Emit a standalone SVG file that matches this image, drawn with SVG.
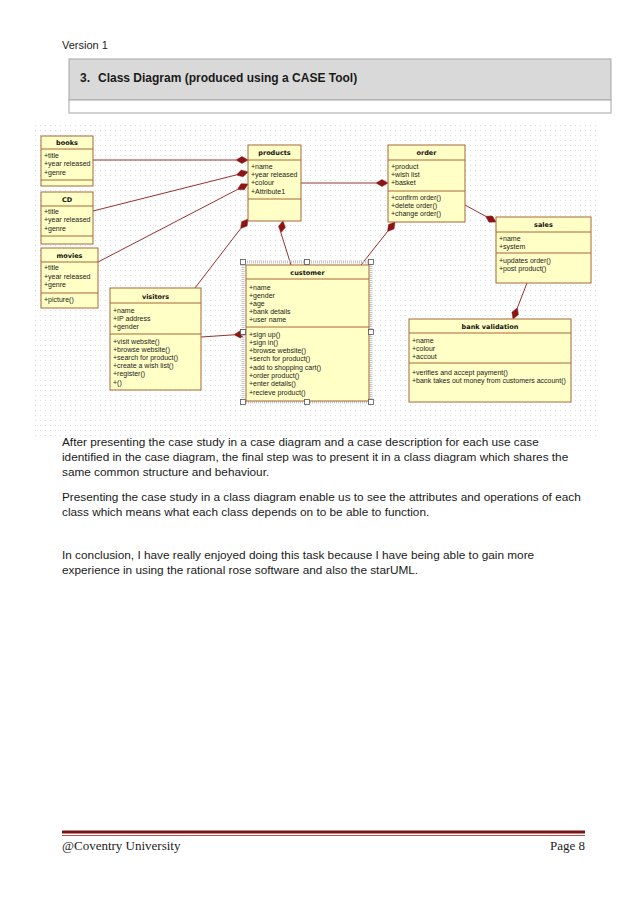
<svg xmlns="http://www.w3.org/2000/svg" width="639" height="903" viewBox="0 0 639 903">
<defs>
<pattern id="grid" x="35" y="125" width="5" height="5" patternUnits="userSpaceOnUse">
<rect x="0" y="0" width="1" height="1" fill="#d9d9d9"/>
</pattern>
<style>
.body{font-family:"Liberation Sans",Arial,sans-serif;font-size:11.8px;fill:#1a1a1a}
.cls rect.box{fill:#ffffc6;stroke:#a8663a;stroke-width:1}
.cls line{stroke:#a8663a;stroke-width:1}
.cn{font-family:"DejaVu Sans","Liberation Sans",sans-serif;font-size:6.5px;font-weight:bold;fill:#111;text-anchor:middle}
.ct{font-family:"Liberation Sans",Arial,sans-serif;font-size:7px;fill:#222}
.conn line{stroke:#9a3030;stroke-width:1}
.conn polygon{fill:#8b1515;stroke:#8b1515;stroke-width:0.5}
.h{fill:#fff;stroke:#555;stroke-width:0.8}
</style>
</defs>
<rect width="639" height="903" fill="#fff"/>
<text x="62" y="49" font-family="'Liberation Sans',Arial,sans-serif" font-size="11" fill="#1a1a1a">Version 1</text>
<g id="header-box">
<rect x="69" y="59" width="542" height="41" fill="#d9d9d9" stroke="#a6a6a6" stroke-width="1"/>
<rect x="69" y="100" width="542" height="13" fill="#fff" stroke="#a6a6a6" stroke-width="1"/>
<text x="80" y="82" font-family="'Liberation Sans',Arial,sans-serif" font-size="12" font-weight="bold" fill="#1a1a1a">3.</text>
<text x="98" y="82" font-family="'Liberation Sans',Arial,sans-serif" font-size="12" font-weight="bold" fill="#1a1a1a">Class Diagram (produced using a CASE Tool)</text>
</g>
<rect x="35" y="125" width="562" height="315" fill="url(#grid)"/>

<g id="connectors" class="conn">
<line x1="93" y1="160" x2="236" y2="160"/>
<polygon points="248,160 242,156.5 236,160 242,163.5"/>
<line x1="93" y1="211" x2="236.4" y2="174.9"/>
<polygon points="248,172 243.03,176.86 236.36,174.93 241.33,170.07"/>
<line x1="98" y1="262" x2="237.4" y2="189.5"/>
<polygon points="248,184 244.29,189.87 237.36,189.53 241.06,183.66"/>
<line x1="195" y1="288" x2="240.7" y2="228.5"/>
<polygon points="248,219 247.13,225.89 240.69,228.52 241.57,221.63"/>
<line x1="301" y1="183" x2="376" y2="183"/>
<polygon points="388,183 382,179.5 376,183 382,186.5"/>
<line x1="291" y1="265" x2="280.9" y2="232.8"/>
<polygon points="283,221 285.37,227.53 280.85,232.81 278.49,226.27"/>
<line x1="361" y1="265" x2="387.6" y2="231.4"/>
<polygon points="395,222 394.03,228.88 387.56,231.42 388.53,224.54"/>
<line x1="465" y1="205" x2="485.5" y2="216.2"/>
<polygon points="496,222 489.06,222.18 485.48,216.23 492.42,216.04"/>
<line x1="527" y1="283" x2="517.4" y2="307.8"/>
<polygon points="513,319 511.91,312.14 517.35,307.82 518.43,314.68"/>
<line x1="201" y1="337" x2="234" y2="334.8"/>
<polygon points="246,334 240.24,337.9 234.03,334.8 239.78,330.9"/>
</g>

<g id="books" class="cls">
<rect class="box" x="41" y="136" width="52" height="50"/>
<line x1="41" y1="149" x2="93" y2="149"/><line x1="41" y1="180" x2="93" y2="180"/>
<text class="cn" x="67" y="145">books</text>
<text class="ct" x="44" y="157.5">+title</text>
<text class="ct" x="44" y="166">+year released</text>
<text class="ct" x="44" y="174.5">+genre</text>
</g>
<g id="CD" class="cls">
<rect class="box" x="41" y="192" width="52" height="52"/>
<line x1="41" y1="206" x2="93" y2="206"/><line x1="41" y1="236" x2="93" y2="236"/>
<text class="cn" x="67" y="202">CD</text>
<text class="ct" x="44" y="213.5">+title</text>
<text class="ct" x="44" y="222">+year released</text>
<text class="ct" x="44" y="230.5">+genre</text>
</g>
<g id="movies" class="cls">
<rect class="box" x="41" y="248" width="57" height="60"/>
<line x1="41" y1="262" x2="98" y2="262"/><line x1="41" y1="293" x2="98" y2="293"/>
<text class="cn" x="69.5" y="258">movies</text>
<text class="ct" x="44" y="270">+title</text>
<text class="ct" x="44" y="278.5">+year released</text>
<text class="ct" x="44" y="287">+genre</text>
<text class="ct" x="44" y="301.5">+picture()</text>
</g>
<g id="products" class="cls">
<rect class="box" x="248" y="145" width="53" height="76"/>
<line x1="248" y1="160" x2="301" y2="160"/><line x1="248" y1="199" x2="301" y2="199"/>
<text class="cn" x="274.5" y="155">products</text>
<text class="ct" x="251" y="168.5">+name</text>
<text class="ct" x="251" y="176.5">+year released</text>
<text class="ct" x="251" y="185">+colour</text>
<text class="ct" x="251" y="193.5">+Attribute1</text>
</g>
<g id="order" class="cls">
<rect class="box" x="388" y="145" width="77" height="77"/>
<line x1="388" y1="160" x2="465" y2="160"/><line x1="388" y1="191" x2="465" y2="191"/>
<text class="cn" x="426.5" y="155">order</text>
<text class="ct" x="391" y="168.5">+product</text>
<text class="ct" x="391" y="176.5">+wish list</text>
<text class="ct" x="391" y="185">+basket</text>
<text class="ct" x="391" y="199.5">+confirm order()</text>
<text class="ct" x="391" y="207.5">+delete order()</text>
<text class="ct" x="391" y="216">+change order()</text>
</g>
<g id="sales" class="cls">
<rect class="box" x="496" y="217" width="95" height="66"/>
<line x1="496" y1="232" x2="591" y2="232"/><line x1="496" y1="253" x2="591" y2="253"/>
<text class="cn" x="543.5" y="227">sales</text>
<text class="ct" x="499" y="240.5">+name</text>
<text class="ct" x="499" y="248.5">+system</text>
<text class="ct" x="499" y="262.5">+updates order()</text>
<text class="ct" x="499" y="271">+post product()</text>
</g>
<g id="customer" class="cls">
<rect x="243" y="262" width="128" height="140" fill="none" stroke="#c4c4c4" stroke-width="3" stroke-dasharray="1,1"/>
<rect class="box" x="246" y="265" width="123" height="136"/>
<line x1="246" y1="279" x2="369" y2="279"/><line x1="246" y1="327" x2="369" y2="327"/>
<text class="cn" x="307.5" y="275">customer</text>
<text class="ct" x="249" y="289.5">+name</text>
<text class="ct" x="249" y="297.5">+gender</text>
<text class="ct" x="249" y="305.5">+age</text>
<text class="ct" x="249" y="313.5">+bank details</text>
<text class="ct" x="249" y="322">+user name</text>
<text class="ct" x="249" y="336.5">+sign up()</text>
<text class="ct" x="249" y="344.8">+sign in()</text>
<text class="ct" x="249" y="353.1">+browse website()</text>
<text class="ct" x="249" y="361.4">+serch for product()</text>
<text class="ct" x="249" y="369.7">+add to shopping cart()</text>
<text class="ct" x="249" y="378">+order product()</text>
<text class="ct" x="249" y="386.3">+enter details()</text>
<text class="ct" x="249" y="394.6">+recieve product()</text>
<rect class="h" x="240.5" y="259.5" width="5" height="5"/>
<rect class="h" x="304.5" y="259.5" width="5" height="5"/>
<rect class="h" x="368.5" y="259.5" width="5" height="5"/>
<rect class="h" x="240.5" y="329.5" width="5" height="5"/>
<rect class="h" x="368.5" y="329.5" width="5" height="5"/>
<rect class="h" x="240.5" y="399.5" width="5" height="5"/>
<rect class="h" x="304.5" y="399.5" width="5" height="5"/>
<rect class="h" x="368.5" y="399.5" width="5" height="5"/>
</g>
<g id="visitors" class="cls">
<rect class="box" x="110" y="288" width="91" height="102"/>
<line x1="110" y1="303" x2="201" y2="303"/><line x1="110" y1="334" x2="201" y2="334"/>
<text class="cn" x="155.5" y="299">visitors</text>
<text class="ct" x="113" y="312.5">+name</text>
<text class="ct" x="113" y="320.5">+IP address</text>
<text class="ct" x="113" y="328.5">+gender</text>
<text class="ct" x="113" y="343.5">+visit website()</text>
<text class="ct" x="113" y="351.7">+browse website()</text>
<text class="ct" x="113" y="359.9">+search for product()</text>
<text class="ct" x="113" y="368.1">+create a wish list()</text>
<text class="ct" x="113" y="376.3">+register()</text>
<text class="ct" x="113" y="384.5">+()</text>
</g>
<g id="bank-validation" class="cls">
<rect class="box" x="409" y="319" width="162" height="83"/>
<line x1="409" y1="333" x2="571" y2="333"/><line x1="409" y1="363" x2="571" y2="363"/>
<text class="cn" x="490" y="329">bank validation</text>
<text class="ct" x="412" y="342.5">+name</text>
<text class="ct" x="412" y="350.5">+colour</text>
<text class="ct" x="412" y="358.5">+accout</text>
<text class="ct" x="412" y="374.5">+verifies and accept payment()</text>
<text class="ct" x="412" y="382.5">+bank takes out money from customers account()</text>
</g>

<text class="body" x="62" y="446">After presenting the case study in a case diagram and a case description for each use case</text>
<text class="body" x="62" y="461">identified in the case diagram, the final step was to present it in a class diagram which shares the</text>
<text class="body" x="62" y="476">same common structure and behaviour.</text>
<text class="body" x="62" y="501">Presenting the case study in a class diagram enable us to see the attributes and operations of each</text>
<text class="body" x="62" y="516">class which means what each class depends on to be able to function.</text>
<text class="body" x="62" y="559">In conclusion, I have really enjoyed doing this task because I have being able to gain more</text>
<text class="body" x="62" y="574">experience in using the rational rose software and also the starUML.</text>

<line x1="62" y1="832" x2="585" y2="832" stroke="#7b1515" stroke-width="3"/>
<line x1="62" y1="835.5" x2="585" y2="835.5" stroke="#c0504d" stroke-width="1"/>
<text x="62" y="850" font-family="'Liberation Serif',serif" font-size="13" fill="#222">@Coventry University</text>
<text x="585" y="850" font-family="'Liberation Serif',serif" font-size="13" fill="#222" text-anchor="end">Page 8</text>
</svg>
